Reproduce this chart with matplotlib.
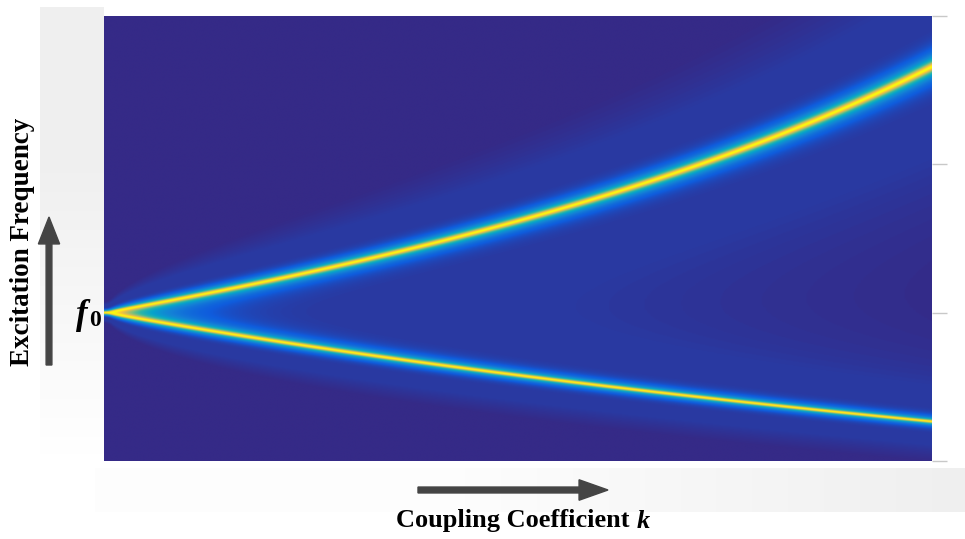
import numpy as np
import matplotlib.pyplot as plt
from matplotlib.colors import LinearSegmentedColormap
from matplotlib.patches import FancyArrow

# axis ranges (k along x, f/f0 along y)
k_range = [0.0, 0.5]
f_range = [0.75, 1.5]
f0 = 1.0
loss = 0.005          # 1/Q of each resonator
ytick_vals = [0.75, 1.0, 1.25, 1.5]

# parula-like colours
parula = ["#352a87", "#0f5cdd", "#1481d6", "#06a4ca", "#2eb7a4",
          "#87bf77", "#d1bb59", "#fec832", "#f9fb0e"]
cmap = LinearSegmentedColormap.from_list("parula", parula)

# response of second resonator of two coupled identical resonators
k = np.linspace(k_range[0], k_range[1], 700)
w = np.linspace(f_range[0], f_range[1], 1200) / f0
K, W = np.meshgrid(k, w)
Z = loss + 1j * (W - 1 / W)
D = Z * Z + (K * W) ** 2
resp = np.abs(W / D)
resp = resp / resp.max(axis=0, keepdims=True)
db = 20 * np.log10(resp)
# faint wide glow + sharp main peak
val = 0.04 * np.clip((db + 35) / 6, 0, 1) + 0.96 * np.clip((db + 23) / 23, 0, 1) ** 2

fig = plt.figure(figsize=(9.65, 5.39), dpi=100)

# light grey panels behind
bg = fig.add_axes([0, 0, 1, 1], zorder=-5)
H, Wd = 539, 965
rgba = np.ones((H, Wd, 4))
rgba[..., :3] = 0.94
alpha = np.zeros((H, Wd))
yy, xx = np.mgrid[0:H, 0:Wd]
left = (xx >= 40) & (xx < 104) & (yy >= 7) & (yy < 455)
alpha[left] = np.clip((455 - yy[left]) / 300, 0, 1)
bottom = (yy >= 468) & (yy < 512) & (xx >= 95)
alpha[bottom] = 0.1 + 0.9 * np.clip((xx[bottom] - 450) / 515, 0, 1)
rgba[..., 3] = alpha
bg.imshow(rgba, extent=[0, Wd, H, 0], aspect="auto")
bg.set_xlim(0, Wd)
bg.set_ylim(H, 0)
bg.axis("off")

ax = fig.add_axes([104 / 965, 1 - 461 / 539, 828 / 965, 445 / 539])
ax.imshow(val, origin="lower", aspect="auto", cmap=cmap, vmin=0, vmax=1,
          extent=[k_range[0], k_range[1], f_range[0], f_range[1]],
          interpolation="bilinear")
ax.set_xlim(k_range)
ax.set_ylim(f_range)
for s in ax.spines.values():
    s.set_visible(False)
ax.set_xticks([])
ax.yaxis.tick_right()
ax.set_yticks(ytick_vals)
ax.set_yticklabels([])
ax.tick_params(axis="y", direction="out", length=11, width=1, color="#c8c8c8")
ax.yaxis.get_major_ticks()[0].tick2line.set_color("#222222")

serif = "Liberation Serif"
fig.text(23 / 965, 1 - 242 / 539, "Excitation Frequency", rotation=90,
         ha="center", va="center", fontsize=19.5, fontweight="bold", family=serif)

# x label: upright words + bold italic k, centred together
t1 = fig.text(0, 1 - 521 / 539, "Coupling Coefficient ", ha="left",
              va="center", fontsize=19, fontweight="bold", family=serif)
t2 = fig.text(0, 1 - 521 / 539, "k", ha="left", va="center", fontsize=19,
              fontweight="bold", fontstyle="italic", family=serif)
r = fig.canvas.get_renderer()
w1 = t1.get_window_extent(r).width
w2 = t2.get_window_extent(r).width
x0 = 523 - (w1 + w2) / 2
t1.set_x(x0 / 965)
t2.set_x((x0 + w1) / 965)

fig.text(88 / 965, 1 - 316 / 539, "f", ha="right", va="center", fontsize=25,
         fontweight="bold", fontstyle="italic", family=serif)
fig.text(89 / 965, 1 - 321 / 539, "0", ha="left", va="center", fontsize=17,
         fontweight="bold", family=serif)

# arrows
fig.add_artist(FancyArrow(
    49 / 965, 1 - 365 / 539, 0, (365 - 217) / 539, width=0.006,
    head_width=0.022, head_length=0.05, length_includes_head=True,
    color="#444444", transform=fig.transFigure))
fig.add_artist(FancyArrow(
    418 / 965, 1 - 490 / 539, (608 - 418) / 965, 0, width=0.011,
    head_width=0.038, head_length=0.03, length_includes_head=True,
    color="#444444", transform=fig.transFigure))

fig.savefig("out.png", dpi=100)
